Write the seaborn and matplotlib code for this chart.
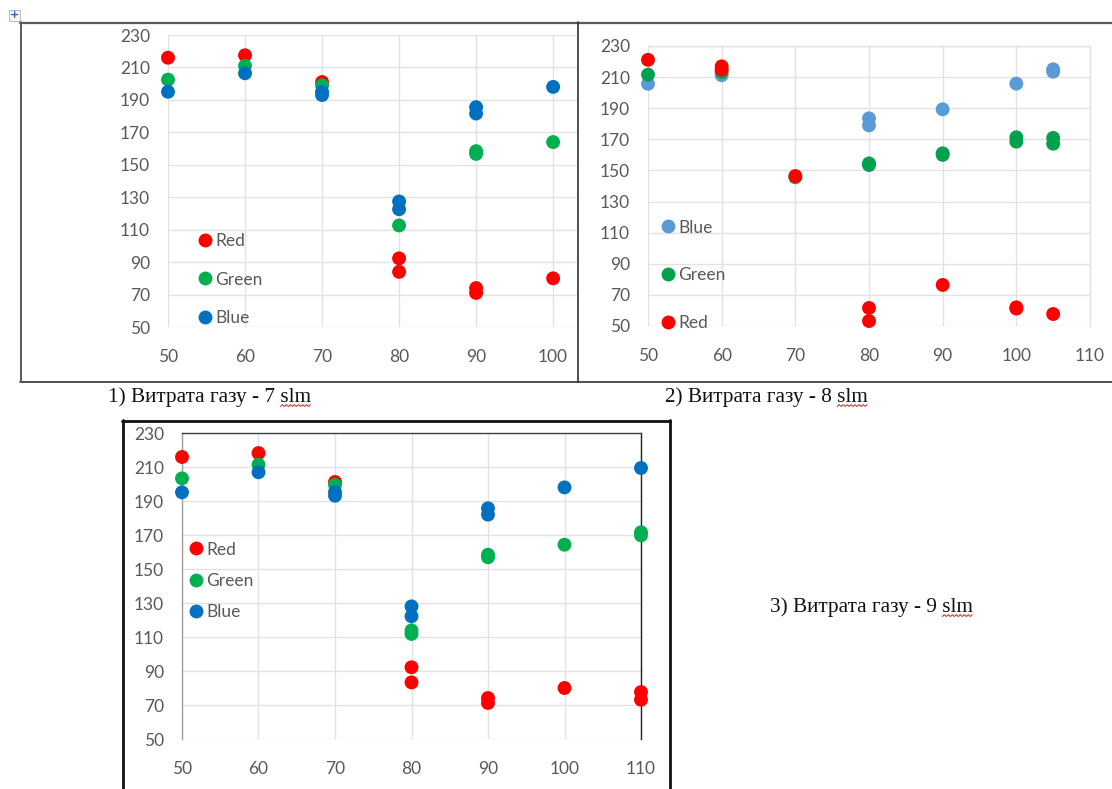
import matplotlib
matplotlib.use("Agg")
import matplotlib.pyplot as plt
from matplotlib.lines import Line2D
from matplotlib.patches import Rectangle
import seaborn as sns
import pandas as pd

# --- data: gas flow 7 slm ---
red7_x = [50, 60, 70, 80, 80, 90, 90, 100]
red7_y = [216, 217.5, 201, 92.3, 84, 74, 71, 80]
green7_x = [50, 60, 70, 80, 90, 90, 100]
green7_y = [202.5, 211, 199, 112.6, 158.4, 156.7, 164]
blue7_x = [50, 60, 70, 70, 80, 80, 90, 90, 100]
blue7_y = [195, 206.4, 195, 193, 127.4, 122.6, 185.5, 181.6, 198]

# --- data: gas flow 8 slm ---
blue8_x = [50, 60, 80, 80, 90, 100, 105, 105]
blue8_y = [205.7, 211.2, 183.5, 179, 189.3, 205.8, 215, 213.5]
green8_x = [50, 60, 70, 80, 80, 90, 90, 100, 100, 105, 105]
green8_y = [211.6, 213.3, 145.6, 154.5, 153.5, 161, 160, 171.3, 168.5, 170.9, 167.2]
red8_x = [50, 60, 60, 70, 80, 80, 90, 100, 100, 105]
red8_y = [221.1, 216.9, 214.8, 146.4, 61.6, 53.2, 76.4, 62, 61.2, 57.7]

# --- data: gas flow 9 slm ---
red9_x = [50, 60, 70, 80, 80, 90, 90, 100, 110, 110]
red9_y = [215.9, 218.2, 201.2, 92.2, 83.3, 74.1, 71.2, 80, 77.6, 73.1]
green9_x = [50, 60, 70, 80, 80, 90, 90, 100, 110, 110]
green9_y = [203.3, 211.4, 199.6, 113.9, 111.8, 158.4, 156.9, 164.3, 171.6, 169.8]
blue9_x = [50, 60, 70, 70, 80, 80, 90, 90, 100, 110]
blue9_y = [195.1, 206.9, 195.3, 193.1, 128, 122.2, 185.7, 182, 198, 209.4]

captions = ["1) Витрата газу - 7 slm", "2) Витрата газу - 8 slm", "3) Витрата газу - 9 slm"]
y_ticks = list(range(50, 231, 20))

W, H = 1112, 789
FS = 12.5
sns.set_style("white")
plt.rcParams["font.family"] = ["Lato", "DejaVu Sans"]

fig = plt.figure(figsize=(W / 100, H / 100), dpi=100)
fig.patch.set_facecolor("white")


def fx(x):
    return x / W


def fy(y):
    return 1 - y / H


def make_df(series):
    rows = []
    for name, xs, ys in series:
        for x, y in zip(xs, ys):
            rows.append((name, x, y))
    return pd.DataFrame(rows, columns=["series", "x", "y"])


def draw_chart(rect_px, series, palette, xlim, xticks, leg_anchor, leg_space, edge=None):
    l, t, r, b = rect_px
    ax = fig.add_axes([fx(l), fy(b), fx(r - l), (b - t) / H])
    df = make_df(series)
    sns.scatterplot(data=df, x="x", y="y", hue="series", palette=palette,
                    hue_order=[s[0] for s in series], s=100, linewidth=0,
                    legend=False, ax=ax, zorder=3)
    for c in ax.collections:
        c.set_clip_on(False)
    ax.set_xlim(*xlim)
    ax.set_ylim(50, 230)
    ax.set_xticks(xticks)
    ax.set_yticks(y_ticks)
    ax.grid(True, color="#e2e2e2", lw=1)
    ax.set_axisbelow(True)
    ax.set_xlabel("")
    ax.set_ylabel("")
    ax.tick_params(length=0, labelsize=FS, labelcolor="#595959")
    ax.tick_params(axis="y", pad=13)
    ax.tick_params(axis="x", pad=16)
    for side, sp in ax.spines.items():
        sp.set_visible(False)
    if edge:
        for side, col in edge.items():
            ax.spines[side].set_visible(True)
            ax.spines[side].set_color(col)
            ax.spines[side].set_linewidth(1)
    handles = [Line2D([], [], ls="", marker="o", ms=10, mec="none", mfc=palette[s[0]])
               for s in series]
    leg = ax.legend(handles, [s[0] for s in series], loc="upper left",
                    bbox_to_anchor=leg_anchor, frameon=False, fontsize=FS,
                    labelspacing=leg_space, handletextpad=0.0, handlelength=1.2,
                    borderaxespad=0)
    for txt in leg.get_texts():
        txt.set_color("#595959")
    return ax


pal1 = {"Red": "#ff0000", "Green": "#00b050", "Blue": "#0070c0"}
pal2 = {"Red": "#ff0000", "Green": "#03a04e", "Blue": "#5b9bd5"}

draw_chart((168, 35, 577, 327),
           [("Red", red7_x, red7_y), ("Green", green7_x, green7_y), ("Blue", blue7_x, blue7_y)],
           pal1, (50, 103.1), [50, 60, 70, 80, 90, 100], (0.048, 0.347), 1.32)

draw_chart((648, 46, 1090, 326),
           [("Blue", blue8_x, blue8_y), ("Green", green8_x, green8_y), ("Red", red8_x, red8_y)],
           pal2, (50, 110), [50, 60, 70, 80, 90, 100, 110], (0.006, 0.405), 1.83,
           edge={"top": "#e2e2e2", "right": "#e2e2e2"})

draw_chart((182, 433, 641, 739),
           [("Red", red9_x, red9_y), ("Green", green9_x, green9_y), ("Blue", blue9_x, blue9_y)],
           pal1, (50, 110), [50, 60, 70, 80, 90, 100, 110], (-0.0074, 0.668), 0.88,
           edge={"top": "#404040", "right": "#202020", "left": "#a0a0a0"})


# frames of the Word layout
def hline(x0, x1, y, color, lw):
    fig.add_artist(Line2D([fx(x0), fx(x1)], [fy(y), fy(y)], color=color, lw=lw,
                          transform=fig.transFigure))


def vline(x, y0, y1, color, lw):
    fig.add_artist(Line2D([fx(x), fx(x)], [fy(y0), fy(y1)], color=color, lw=lw,
                          transform=fig.transFigure))


hline(20, 1112, 22.5, "#5a5a5a", 1.6)
hline(20, 1112, 382, "#303030", 1.2)
vline(20.5, 22, 382, "#5a5a5a", 1.4)
vline(578, 22, 382, "#303030", 1.2)
vline(123, 420, 789, "#111111", 2)
vline(669.5, 420, 789, "#111111", 2)
hline(122, 670, 420.5, "#111111", 2)

# small table handle icon
fig.add_artist(Rectangle((fx(9), fy(21)), 11 / W, 11 / H, transform=fig.transFigure,
                         fc="#f4f4f4", ec="#b0b0b0", lw=0.6))
fig.text(fx(14.5), fy(15.5), "+", color="#2a62b8", fontsize=8, ha="center", va="center",
         family="DejaVu Sans", weight="bold")

# captions with the spell-check squiggle under "slm"
CAP_FS = 15.3
cap_pos = [(108, 397), (665, 397), (770, 607)]
fig.canvas.draw()
rend = fig.canvas.get_renderer()
for (cx, cy), cap in zip(cap_pos, captions):
    t = fig.text(fx(cx), fy(cy), cap, ha="left", va="center", fontsize=CAP_FS,
                 family="Liberation Serif", color="#111111")
    bb = t.get_window_extent(renderer=rend)
    probe = fig.text(0, 0, "slm", fontsize=CAP_FS, family="Liberation Serif")
    wb = probe.get_window_extent(renderer=rend)
    probe.remove()
    x0, x1 = bb.x1 - wb.width, bb.x1
    yb = bb.y0 + 1
    xs, ys = [], []
    k = 0
    x = x0
    while x <= x1:
        xs.append(x / W)
        ys.append((yb + (1.2 if k % 2 else -0.6)) / H)
        x += 2
        k += 1
    fig.add_artist(Line2D(xs, ys, color="#e02020", lw=0.7, transform=fig.transFigure))

fig.savefig("out.png", dpi=100, facecolor="white")
